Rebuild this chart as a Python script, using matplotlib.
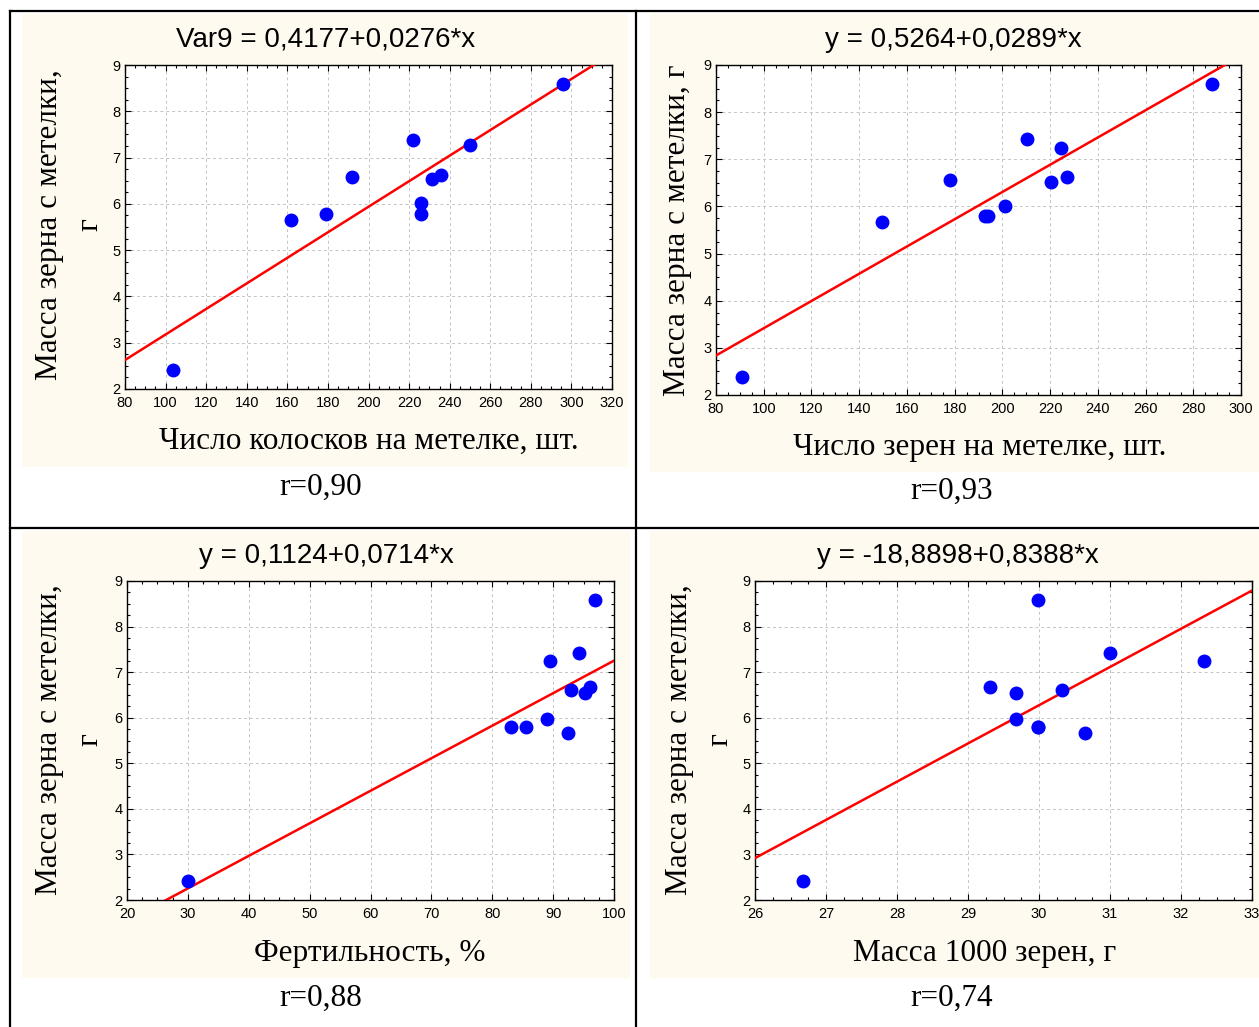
import matplotlib.pyplot as plt
from matplotlib.patches import Rectangle
from matplotlib.lines import Line2D
from matplotlib.ticker import MultipleLocator, AutoMinorLocator
import numpy as np

W, H = 1259, 1027

# ---- data ----
y_mass = [2.40, 5.66, 5.79, 6.58, 7.39, 6.01, 5.78, 6.53, 6.63, 7.28, 8.59]

x_spikelets = [103.7, 161.7, 178.9, 191.9, 222.0, 226.0, 226.0, 231.3, 235.5, 249.8, 295.9]

x_grains = [90.7, 149.4, 192.9, 194.0, 178.2, 201.3, 210.3, 220.3, 226.9, 224.6, 287.8]
y_grains = [2.39, 5.66, 5.79, 5.79, 6.57, 6.01, 7.42, 6.51, 6.63, 7.25, 8.60]

x_fert = [30.0, 83.0, 85.6, 89.0, 89.5, 92.5, 92.9, 94.2, 95.2, 96.0, 96.9]
y_fert = [2.41, 5.79, 5.79, 5.97, 7.25, 5.67, 6.61, 7.42, 6.54, 6.67, 8.58]

x_tgw = [26.67, 29.31, 29.68, 29.68, 29.98, 29.98, 29.98, 30.32, 30.65, 31.0, 32.33]
y_tgw = [2.41, 6.67, 6.54, 5.97, 8.58, 5.79, 5.79, 6.61, 5.67, 7.42, 7.25]

intercepts = [0.4177, 0.5264, 0.1124, -18.8898]
slopes = [0.0276, 0.0289, 0.0714, 0.8388]
titles = ["Var9 = 0,4177+0,0276*x", "y = 0,5264+0,0289*x",
          "y = 0,1124+0,0714*x", "y = -18,8898+0,8388*x"]
xlabels = ["Число колосков на метелке, шт.", "Число зерен на метелке, шт.",
           "Фертильность, %", "Масса 1000 зерен, г"]
r_labels = ["r=0,90", "r=0,93", "r=0,88", "r=0,74"]
xlims = [(80, 320), (80, 300), (20, 100), (26, 33)]
xsteps = [20, 20, 10, 1]

# ---- layout (pixels) ----
axes_px = [(125, 612, 65, 389), (716, 1241, 65, 395),
           (127, 614, 581, 900), (755, 1252, 581, 900)]
beige_px = [(22, 628, 14, 467), (650, 1259, 14, 472),
            (22, 630, 531, 978), (650, 1259, 531, 978)]
title_pos = [(326, 40), (953, 40), (326, 556), (958, 556)]
xlab_pos = [(369, 441), (980, 447), (370, 953), (985, 953)]
r_pos = [(321, 487), (952, 491), (321, 998), (952, 998)]
ylab_pos = [(50, 90, 225), (677, None, 230), (50, 90, 740), (680, 720, 740)]

SERIF = ["Liberation Serif", "DejaVu Serif"]
SANS = ["Liberation Sans", "DejaVu Sans"]

fig = plt.figure(figsize=(W / 100, H / 100), dpi=100)
fig.patch.set_facecolor("white")


def fx(px):
    return px / W


def fy(py):
    return 1 - py / H


# beige panels
for x0, x1, y0, y1 in beige_px:
    fig.add_artist(Rectangle((fx(x0), fy(y1)), fx(x1 - x0), (y1 - y0) / H,
                             transform=fig.transFigure, facecolor="#fefaef",
                             edgecolor="none", zorder=0))

# table lines
for xs, ys in [([10, 10], [11, H]), ([10, W], [11, 11]),
               ([636, 636], [11, H]), ([10, W], [528, 528])]:
    fig.add_artist(Line2D([fx(v) for v in xs], [fy(v) for v in ys],
                          transform=fig.transFigure, color="black", lw=1.6))

xs_all = [x_spikelets, x_grains, x_fert, x_tgw]
ys_all = [y_mass, y_grains, y_fert, y_tgw]

for i in range(4):
    l, r, t, b = axes_px[i]
    ax = fig.add_axes([fx(l), fy(b), fx(r - l), (b - t) / H])
    ax.set_facecolor("white")
    ax.set_xlim(*xlims[i])
    ax.set_ylim(2, 9)
    ax.xaxis.set_major_locator(MultipleLocator(xsteps[i]))
    ax.yaxis.set_major_locator(MultipleLocator(1))
    ax.xaxis.set_minor_locator(AutoMinorLocator(4))
    ax.yaxis.set_minor_locator(AutoMinorLocator(4))
    ax.tick_params(which="both", direction="in", top=True, right=True,
                   labelsize=10.5, width=0.8)
    ax.tick_params(axis="x", pad=5)
    ax.tick_params(axis="y", pad=3)
    ax.tick_params(which="major", length=4)
    ax.tick_params(which="minor", length=2)
    for lab in ax.get_xticklabels() + ax.get_yticklabels():
        lab.set_family(SANS)
    for sp in ax.spines.values():
        sp.set_linewidth(1.0)
    ax.grid(True, which="major", linestyle=(0, (3, 3)), color="#c4c4c4", lw=0.7)
    ax.set_axisbelow(True)

    xx = np.array(xlims[i], dtype=float)
    ax.plot(xx, intercepts[i] + slopes[i] * xx, color="#ff0000", lw=1.8, zorder=3)
    ax.plot(xs_all[i], ys_all[i], "o", color="#0000ff", ms=9, zorder=4,
            clip_on=False)

    fig.text(fx(title_pos[i][0]), fy(title_pos[i][1]), titles[i], family=SANS,
             fontsize=20, ha="center", va="center")
    fig.text(fx(xlab_pos[i][0]), fy(xlab_pos[i][1]), xlabels[i], family=SERIF,
             fontsize=22.5, ha="center", va="center")
    fig.text(fx(r_pos[i][0]), fy(r_pos[i][1]), r_labels[i], family=SERIF,
             fontsize=22.5, ha="center", va="center")
    x_a, x_b, y_c = ylab_pos[i]
    if x_b is None:
        fig.text(fx(x_a), fy(y_c), "Масса зерна с метелки, г", family=SERIF,
                 fontsize=22.5, rotation=90, ha="center", va="center")
    else:
        fig.text(fx(x_a), fy(y_c), "Масса зерна с метелки,", family=SERIF,
                 fontsize=22.5, rotation=90, ha="center", va="center")
        fig.text(fx(x_b), fy(y_c), "г", family=SERIF,
                 fontsize=22.5, rotation=90, ha="center", va="center")

fig.savefig("out.png", dpi=100)
